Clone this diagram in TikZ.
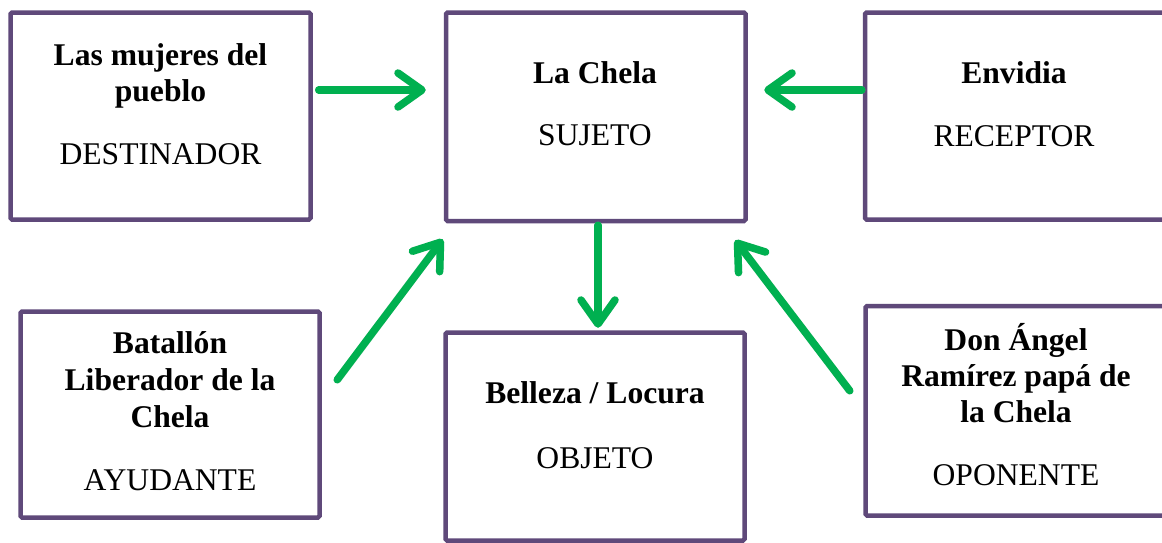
\documentclass[tikz,border=0pt]{standalone}
\usepackage{fontspec}
\setmainfont{Liberation Serif}
\usetikzlibrary{arrows.meta,calc}
\definecolor{boxpurple}{HTML}{5F497A}
\definecolor{arrgreen}{HTML}{00B050}
\tikzset{
  box/.style={draw=boxpurple, line width=4.5pt, rounded corners=1.5pt, fill=white, inner sep=0pt},
  ttl/.style={font=\fontsize{31.6}{37}\selectfont\bfseries, anchor=base, inner sep=0pt},
  role/.style={font=\fontsize{31.6}{37}\selectfont, anchor=base, inner sep=0pt},
  arr/.style={draw=arrgreen, line width=7.5pt, line cap=round,
    -{Straight Barb[length=24pt, width=34pt, line cap=round, line join=round]}},
  arrshadow/.style={draw=black!25, opacity=0.35, line width=7.5pt, line cap=round,
    -{Straight Barb[length=24pt, width=34pt, line cap=round, line join=round]}}
}
\begin{document}
\begin{tikzpicture}[x=1pt,y=-1pt]
\useasboundingbox (0,0) rectangle (1162,542);
\fill[white] (0,0) rectangle (1162,542);
% boxes
\node[box, minimum width=300pt, minimum height=207pt] (A) at (160.5,116) {};
\node[box, minimum width=299.5pt, minimum height=208.5pt] (B) at (595.75,116.75) {};
\node[box, minimum width=301pt, minimum height=207pt] (C) at (1015.5,116) {};
\node[box, minimum width=299pt, minimum height=206pt] (D) at (170,414.5) {};
\node[box, minimum width=299pt, minimum height=208pt] (E) at (595,436.5) {};
\node[box, minimum width=300.5pt, minimum height=209.5pt] (F) at (1015.75,410.75) {};
% texts A
\node[ttl] (a1) at (160.5,65) {Las mujeres del};
\node[ttl] (a2) at (160.5,101) {pueblo};
\node[role] (a3) at (160.5,164) {DESTINADOR};
% texts B
\node[ttl] (b1) at (595,83) {La Chela};
\node[role] (b2) at (595,145) {SUJETO};
% texts C
\node[ttl] (c1) at (1014,83) {Envidia};
\node[role] (c2) at (1014,146) {RECEPTOR};
% texts D
\node[ttl] (d1) at (170,353) {Batallón};
\node[ttl] (d2) at (170,390) {Liberador de la};
\node[ttl] (d3) at (170,427) {Chela};
\node[role] (d4) at (170,490) {AYUDANTE};
% texts E
\node[ttl] (e1) at (595,403) {Belleza / Locura};
\node[role] (e2) at (595,468) {OBJETO};
% texts F
\node[ttl] (f1) at (1016,350) {Don Ángel};
\node[ttl] (f2) at (1016,386) {Ramírez papá de};
\node[ttl] (f3) at (1016,422) {la Chela};
\node[role] (f4) at (1016,485) {OPONENTE};
% arrow shadows
\begin{scope}[shift={(1.5,2)}]
\draw[arrshadow] ($(A.east)+(6,-26)$) -- ($(B.west)+(-18,-26.75)$);
\draw[arrshadow] ($(C.west)+(-1,-26)$) -- ($(B.east)+(16.5,-26.75)$);
\draw[arrshadow] ($(B.south)+(2.25,2)$) -- ($(E.north)+(3,-2.5)$);
\draw[arrshadow] ($(D.north east)+(15.5,70.5)$) -- ($(B.south west)+(-1,16)$);
\draw[arrshadow] ($(F.north west)+(-13.5,87)$) -- ($(B.south east)+(-12.5,17)$);
\end{scope}
% arrows
\draw[arr] ($(A.east)+(6,-26)$) -- ($(B.west)+(-18,-26.75)$);
\draw[arr] ($(C.west)+(-1,-26)$) -- ($(B.east)+(16.5,-26.75)$);
\draw[arr] ($(B.south)+(2.25,2)$) -- ($(E.north)+(3,-2.5)$);
\draw[arr] ($(D.north east)+(15.5,70.5)$) -- ($(B.south west)+(-1,16)$);
\draw[arr] ($(F.north west)+(-13.5,87)$) -- ($(B.south east)+(-12.5,17)$);
\end{tikzpicture}
\end{document}
